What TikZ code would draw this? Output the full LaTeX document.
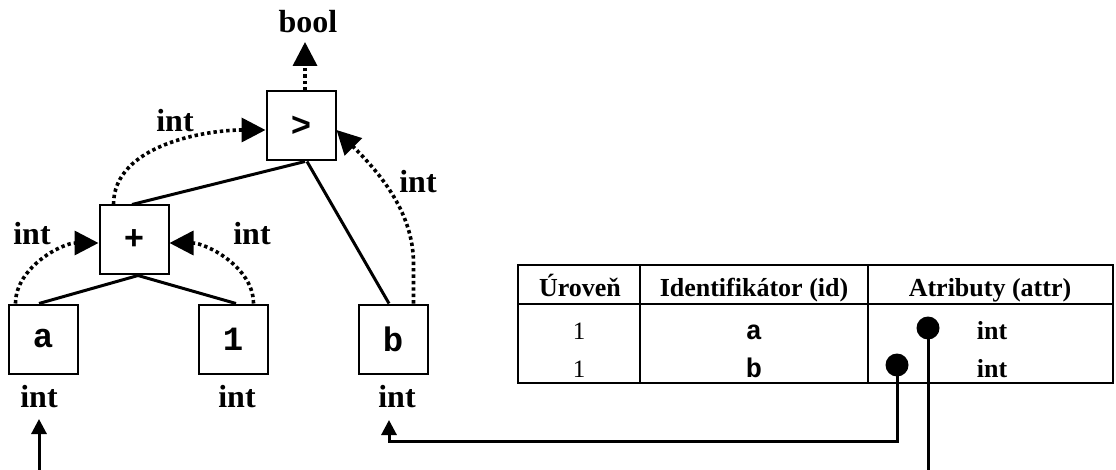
\documentclass[tikz,border=0pt]{standalone}
\usepackage{fontspec}
\setmainfont{Liberation Serif}
\setmonofont{Liberation Mono}
\usetikzlibrary{arrows.meta}
\begin{document}
\begin{tikzpicture}[x=1pt,y=-1pt,
  opbox/.style={draw, line width=2pt, minimum size=69pt, inner sep=0pt,
    font=\fontsize{34}{34}\selectfont\ttfamily\bfseries},
  lbl/.style={anchor=base, inner sep=0pt, font=\fontsize{32}{32}\selectfont\bfseries},
  tree/.style={line width=3pt},
  flow/.style={line width=3.6pt, dash pattern=on 3.4pt off 3pt,
    -{Triangle[length=24pt,width=24pt]}},
  link/.style={line width=3pt},
  linkarrow/.style={line width=3pt, -{Triangle[length=15pt,width=15pt]}},
  grid/.style={line width=2.5pt},
  head/.style={anchor=base, inner sep=0pt, font=\fontsize{26}{26}\selectfont\bfseries},
  cellnum/.style={anchor=base, inner sep=0pt, font=\fontsize{25}{25}\selectfont},
  cellid/.style={anchor=base, inner sep=0pt, font=\fontsize{27}{27}\selectfont\ttfamily\bfseries},
  cellattr/.style={anchor=base, inner sep=0pt, font=\fontsize{26}{26}\selectfont\bfseries},
  pin/.style={circle, fill, minimum size=23pt, inner sep=0pt}
]
\useasboundingbox (0,0) rectangle (1116,470);

% syntax tree
\node[opbox] (gt)   at (301,126) {>};
\node[opbox] (plus) at (134,240) {+};
\node[opbox] (a)    at (43,339)  {a};
\node[opbox] (one)  at (233,339) {1};
\node[opbox] (b)    at (393,339) {b};

\draw[tree] ([xshift=4pt]gt.south) -- ([xshift=-2pt]plus.north);
\draw[tree] ([xshift=6pt]gt.south) -- ([xshift=-4pt]b.north);
\draw[tree] ([xshift=4pt]plus.south) -- ([xshift=-4pt]a.north);
\draw[tree] ([xshift=4pt]plus.south) -- ([xshift=3pt]one.north);

% type labels
\node[lbl] (tbool) at (308,33)  {bool};
\node[lbl] (tgtl)  at (175,132) {int};
\node[lbl] (tgtr)  at (418,193) {int};
\node[lbl] (tpl)   at (32,245)  {int};
\node[lbl] (tpr)   at (252,245) {int};
\node[lbl] (ta)    at (39,407)  {int};
\node[lbl] (tone)  at (237,407) {int};
\node[lbl] (tb)    at (397,407) {int};

% type propagation
\coordinate (booltip) at (305,42);
\draw[flow] ([xshift=4pt]gt.north) -- (booltip);
\draw[flow] ([xshift=8pt]a.north west) to[out=90,in=180,looseness=0.9] ([yshift=-3pt]plus.west);
\draw[flow] ([xshift=-15pt]one.north east) to[out=90,in=0,looseness=0.9] ([yshift=-3pt]plus.east);
\draw[flow] ([xshift=15pt]plus.north west) to[out=90,in=180,looseness=0.9] ([yshift=-4pt]gt.west);
\draw[flow] ([xshift=-15pt]b.north east) -- ++(0,-40) to[out=90,in=-45,looseness=0.9] ([yshift=-4pt]gt.east);

% symbol table
\draw[grid] (518,265) rectangle (1113,383);
\draw[grid] (518,304) -- (1113,304);
\draw[grid] (640,265) -- (640,383);
\draw[grid] (868,265) -- (868,383);

\node[head] (h1) at (580,296) {Úroveň};
\node[head] (h2) at (754,296) {Identifikátor (id)};
\node[head] (h3) at (990,296) {Atributy (attr)};

\node[cellnum]  (l1) at (579,339) {1};
\node[cellid]   (i1) at (754,339) {a};
\node[cellattr] (t1) at (992,339) {int};
\node[cellnum]  (l2) at (579,377) {1};
\node[cellid]   (i2) at (754,377) {b};
\node[cellattr] (t2) at (992,377) {int};

\node[pin] (pa) at (928,328) {};
\node[pin] (pb) at (897,365) {};

% references from the table back to the tree
\coordinate (aend)  at (928,470);
\draw[link] (pa.center) -- (aend);

\coordinate (turn)  at (897,441);
\coordinate (btip)  at (389,420);
\draw[linkarrow] (pb.center) -- (turn) -| (btip);

\coordinate (afoot) at (39,470);
\coordinate (atip)  at (39,419);
\draw[linkarrow] (afoot) -- (atip);
\end{tikzpicture}
\end{document}
